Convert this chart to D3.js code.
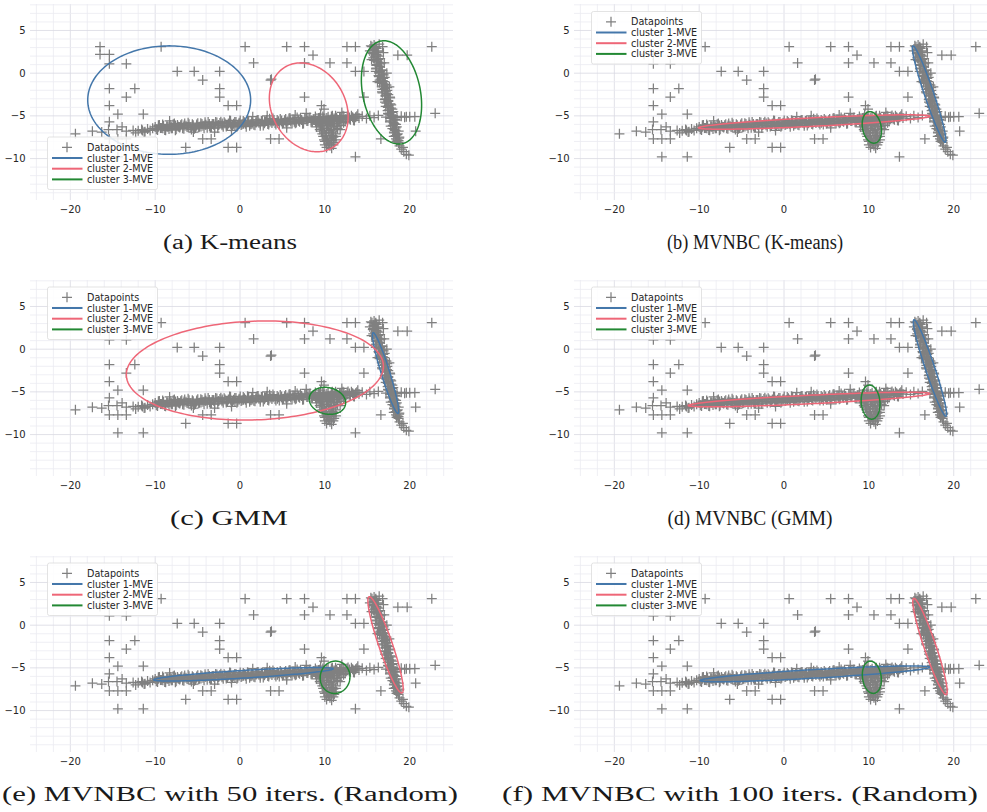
<!DOCTYPE html>
<html><head><meta charset="utf-8">
<script src="https://cdn.jsdelivr.net/npm/d3@7"></script>
<style>body{margin:0;background:#fff;}svg{display:block;}</style>
</head><body>
<svg id="chart" width="987" height="812"></svg>
<script>
// ---------------- data ----------------
const xTicks = [-20, -10, 0, 10, 20];
const yTicks = [5, 0, -5, -10];
const legendLabels = ["Datapoints", "cluster 1-MVE", "cluster 2-MVE", "cluster 3-MVE"];
const clusterColors = ["#4477AA", "#EE6677", "#228833"];
const captions = ["(a) K-means", "(b) MVNBC (K-means)", "(c) GMM", "(d) MVNBC (GMM)",
  "(e) MVNBC with 50 iters. (Random)", "(f) MVNBC with 100 iters. (Random)"];

// isolated datapoints
const outlierPoints = [
  [-16.5,3.1],[-9.3,3.1],[0.6,3.1],[5.5,3.1],[7.6,3.1],[12.6,3.1],[13.6,3.1],[22.6,3.1],
  [-16.5,2.2],[-15.4,2.2],[8.6,2.1],[18.6,2.1],[19.7,2.1],
  [-15.4,1.1],[-13.4,1.1],[1.6,1.2],[7.6,1.2],[10.6,1.2],[12.6,1.2],
  [-7.4,0.2],[-5.4,0.2],[-2.4,0.2],[13.6,0.2],[14.6,0.2],
  [-4.4,-0.8],[3.6,-0.8],[3.7,-0.7],
  [-15.4,-1.8],[-12.4,-1.8],[-2.4,-1.8],
  [-13.4,-2.8],[-2.4,-2.8],[7.6,-2.8],[14.6,-2.8],
  [-15.4,-3.8],[-1.4,-3.8],[-0.4,-3.8],[9.6,-3.8],[9.9,-4.2],
  [-14.4,-4.8],[-11.4,-4.8],[23.0,-4.7],
  [-15.4,-5.7],
  [-19.4,-7.1],[-17.4,-6.8],[-16.3,-6.9],[-15.5,-6.6],[-14.5,-6.6],[-13.9,-6.3],[-13.4,-6.8],
  [-12.6,-6.7],[-12.3,-7.0],[-11.5,-6.7],[-11.3,-6.9],
  [-15.4,-7.7],[-14.4,-7.7],[-13.4,-7.7],[-4.4,-7.7],[-3.4,-7.7],[3.6,-7.7],[4.6,-7.7],[16.6,-7.7],
  [-6.4,-8.7],[-1.4,-8.7],[-0.4,-8.7],
  [-14.4,-9.8],[-11.4,-9.8],[13.6,-9.8],
  [19.6,-5.1],[20.6,-5.1],[20.7,-6.8],
  [-8.3,-5.6],[-5.5,-6.9],[-3.0,-6.9],[-1.0,-6.7],[1.5,-5.1],[3.2,-5.0],[5.5,-6.4],
  [6.5,-4.9],[7.8,-4.7],[9.5,-4.8],[12.0,-4.6]
];

// dense horizontal band (first sweep)
const bandPoints = [
  [-12.0,-6.75],[-11.6,-6.6],[-11.2,-6.85],[-10.9,-6.55],[-10.6,-6.7],[-10.3,-6.45],
  [-10.0,-6.30],[-9.72,-6.64],[-9.51,-6.08],[-9.23,-6.41],[-9.02,-6.15],[-8.77,-6.69],[-8.48,-6.28],
  [-8.26,-6.06],[-7.98,-6.45],[-7.74,-5.89],[-7.53,-6.58],[-7.27,-6.26],[-6.99,-6.10],[-6.76,-6.44],
  [-6.52,-5.88],[-6.24,-6.31],[-6.01,-5.98],[-5.73,-6.59],[-5.52,-6.10],[-5.26,-6.43],[-4.98,-5.85],
  [-4.77,-6.26],[-4.49,-5.95],[-4.24,-6.44],[-4.02,-6.05],[-3.76,-5.71],[-3.48,-6.30],[-3.27,-5.94],
  [-2.99,-6.43],[-2.73,-5.79],[-2.51,-6.08],[-2.26,-5.69],[-1.98,-6.28],[-1.77,-5.89],[-1.49,-6.16],
  [-1.23,-5.54],[-1.02,-6.30],[-0.76,-5.92],[-0.48,-5.73],[-0.27,-6.15],[0.02,-5.54],[0.24,-5.97],
  [0.51,-5.74],[0.73,-6.26],[1.01,-5.58],[1.27,-5.99],[1.48,-5.77],[1.76,-6.11],[2.02,-5.47],
  [2.23,-5.81],[2.52,-5.60],[2.74,-6.12],[2.99,-5.66],[3.27,-5.94],[3.49,-5.33],[3.76,-5.83],
  [4.01,-5.48],[4.23,-6.02],[4.52,-5.64],[4.74,-5.38],[5.02,-5.90],[5.26,-5.52],[5.49,-6.01],
  [5.77,-5.31],[5.98,-5.66],[6.24,-5.43],[6.51,-5.86],[6.73,-5.18],[7.02,-5.70],[7.26,-5.49],
  [7.48,-5.88],[7.77,-5.27],[7.99,-5.60],[8.24,-5.18],[8.52,-5.70],[8.73,-5.36],[9.01,-5.85],
  [9.27,-5.24],[9.48,-5.48],[9.76,-5.06],[10.02,-5.70],[10.23,-5.24],[10.51,-5.56],[10.77,-5.08],
  [10.98,-5.43],[11.26,-4.98],[11.49,-5.59],[11.74,-5.25],[12.02,-5.64],[12.24,-5.07],[12.51,-5.40],
  [12.73,-4.96],[13.01,-5.45],[13.27,-5.16],[13.48,-5.53],[13.76,-5.03],[14.02,-5.26],
  [14.4,-5.05],[14.9,-5.3],[15.3,-5.0],[15.8,-5.2],[16.3,-4.95],[17.2,-5.15],[18.0,-5.0],
  [18.5,-5.2],[19.0,-5.05],[19.4,-5.15],[20.0,-5.1]
];

// dense horizontal band (second sweep)
const bandPoints2 = [
  [-9.87,-6.57],[-9.62,-6.11],[-9.37,-6.42],[-9.12,-6.00],[-8.87,-6.65],[-8.62,-6.21],[-8.37,-6.54],
  [-8.12,-6.28],[-7.87,-5.98],[-7.62,-6.67],[-7.37,-6.08],[-7.12,-6.35],[-6.87,-5.99],[-6.62,-6.50],
  [-6.37,-6.15],[-6.12,-5.82],[-5.87,-6.33],[-5.62,-5.97],[-5.37,-6.51],[-5.12,-6.16],[-4.87,-6.32],
  [-4.62,-5.86],[-4.37,-6.17],[-4.12,-5.75],[-3.87,-6.40],[-3.62,-5.96],[-3.37,-6.29],[-3.12,-6.03],
  [-2.87,-5.73],[-2.62,-6.42],[-2.37,-5.83],[-2.12,-6.10],[-1.87,-5.74],[-1.62,-6.25],[-1.37,-5.90],
  [-1.12,-5.57],[-0.87,-6.08],[-0.62,-5.72],[-0.37,-6.26],[-0.12,-5.91],[0.13,-6.07],[0.38,-5.61],
  [0.63,-5.92],[0.88,-5.50],[1.13,-6.15],[1.38,-5.71],[1.63,-6.04],[1.88,-5.78],[2.13,-5.48],
  [2.38,-6.17],[2.63,-5.58],[2.88,-5.85],[3.13,-5.49],[3.38,-6.00],[3.63,-5.65],[3.88,-5.32],
  [4.13,-5.83],[4.38,-5.47],[4.63,-6.01],[4.88,-5.66],[5.13,-5.82],[5.38,-5.36],[5.63,-5.67],
  [5.88,-5.25],[6.13,-5.90],[6.38,-5.46],[6.63,-5.79],[6.88,-5.53],[7.13,-5.23],[7.38,-5.92],
  [7.63,-5.33],[7.88,-5.60],[8.13,-5.24],[8.38,-5.75],[8.63,-5.40],[8.88,-5.07],[9.13,-5.58],
  [9.38,-5.22],[9.63,-5.76],[9.88,-5.41],[10.13,-5.57],[10.38,-5.11],[10.63,-5.42],[10.88,-5.00],
  [11.13,-5.65],[11.38,-5.21],[11.63,-5.54],[11.88,-5.28],[12.13,-4.98],[12.38,-5.67],[12.63,-5.08],
  [12.88,-5.35],[13.13,-4.99],[13.38,-5.50],[13.63,-5.15],[13.88,-4.82]
];

// dense horizontal band (core points near the centre line)
const bandPoints3 = [
  [-9.6,-6.26],[-9.1,-6.46],[-8.6,-6.28],[-8.1,-6.46],[-7.6,-6.14],[-7.1,-6.30],[-6.6,-6.14],[-6.1,-6.34],
  [-5.6,-6.16],[-5.1,-6.01],[-4.6,-6.24],[-4.1,-6.04],[-3.6,-6.22],[-3.1,-5.95],[-2.6,-6.09],[-2.1,-5.88],
  [-1.6,-6.10],[-1.1,-5.92],[-0.6,-6.08],[-0.1,-5.81],[0.4,-5.91],[0.9,-5.72],[1.4,-5.92],[1.9,-5.75],
  [2.4,-5.91],[2.9,-5.64],[3.4,-5.78],[3.9,-5.63],[4.4,-5.82],[4.9,-5.55],[5.4,-5.70],[5.9,-5.46],
  [6.4,-5.68],[6.9,-5.53],[7.4,-5.65],[7.9,-5.38],[8.4,-5.54],[8.9,-5.37],[9.4,-5.58],[9.9,-5.36],
  [10.4,-5.49],[10.9,-5.24],[11.4,-5.37],[11.9,-5.21],[12.4,-5.41],[12.9,-5.19],[13.4,-5.32]
];

// blob below the band near x = 10
const blobPoints = [
  [8.9,-5.7],[9.3,-5.6],[9.7,-5.9],[10.1,-5.5],[10.5,-5.8],[10.9,-5.6],[11.3,-5.9],[11.7,-5.7],[12.2,-5.8],
  [9.2,-6.0],[9.5,-6.2],[9.9,-6.4],[10.3,-6.1],[10.7,-6.3],[11.1,-6.2],[11.5,-6.5],[11.9,-6.1],
  [9.6,-6.8],[10.0,-7.0],[10.4,-6.7],[10.8,-6.9],[11.2,-7.1],
  [9.8,-7.4],[10.2,-7.6],[10.6,-7.3],[11.0,-7.5],[11.3,-7.8],
  [10.0,-8.0],[10.4,-8.2],[10.8,-7.9],[10.6,-8.5],[10.2,-8.7],[11.0,-8.4],
  [9.4,-5.4],[9.8,-5.3],[10.3,-5.7],[10.7,-5.5],[11.1,-5.3],[11.5,-5.5],[9.0,-6.3],[9.4,-6.6],
  [9.8,-6.1],[10.2,-6.5],[10.6,-6.0],[11.0,-6.6],[11.4,-6.3],[11.8,-6.6],[9.7,-7.1],[10.1,-7.3],
  [10.5,-7.0],[10.9,-7.3],[11.3,-7.4],[9.9,-7.8],[10.3,-7.9],[10.7,-7.7],[11.1,-8.1],[10.5,-8.3],
  [10.8,-8.8],[10.0,-8.4]
];

// diagonal cluster near x = 16..19 (two sweeps + edges + tail)
const diagPoints = [
  [15.80,3.3],[15.55,3.1],[16.10,2.9],[15.80,2.7],[16.25,2.5],[15.65,2.3],[16.16,2.1],[15.91,1.9],
  [16.51,1.7],[15.81,1.5],[16.26,1.3],[16.51,1.1],[16.06,0.9],[16.47,0.7],[16.02,0.5],[16.77,0.3],
  [16.42,0.1],[16.77,-0.1],[16.32,-0.3],[17.05,-0.5],[16.58,-0.7],[16.83,-0.9],[16.45,-1.1],[17.13,-1.3],
  [16.88,-1.5],[17.33,-1.7],[16.78,-1.9],[17.21,-2.1],[16.79,-2.3],[17.47,-2.5],[17.14,-2.7],[17.69,-2.9],
  [17.06,-3.1],[17.47,-3.3],[17.25,-3.5],[17.82,-3.7],[17.17,-3.9],[17.78,-4.1],[17.53,-4.3],[18.06,-4.5],
  [17.45,-4.7],[17.83,-4.9],[18.12,-5.1],[17.69,-5.3],[18.36,-5.5],[17.67,-5.7],[18.20,-5.9],[18.01,-6.1],
  [18.47,-6.3],[17.96,-6.5],[18.33,-6.7],[18.14,-6.9],[18.59,-7.1],[18.34,-7.3],[18.77,-7.5],[18.38,-7.7],
  [18.68,-7.9],[18.68,-8.1],
  [15.42,3.2],[15.97,3.0],[15.73,2.8],[16.23,2.6],[15.68,2.4],[16.03,2.2],[16.33,2.0],[15.70,1.8],
  [16.28,1.6],[16.14,1.4],[16.64,1.2],[16.09,1.0],[16.44,0.8],[16.06,0.6],[16.69,0.4],[16.49,0.2],
  [16.40,0.0],[16.92,-0.2],[16.37,-0.4],[16.88,-0.6],[16.45,-0.8],[17.00,-1.0],[16.75,-1.2],[17.26,-1.4],
  [16.71,-1.6],[17.06,-1.8],[17.36,-2.0],[16.73,-2.2],[17.31,-2.4],[17.16,-2.6],[17.67,-2.8],[17.12,-3.0],
  [17.47,-3.2],[17.09,-3.4],[17.72,-3.6],[17.52,-3.8],[17.42,-4.0],[17.95,-4.2],[17.40,-4.4],[17.91,-4.6],
  [17.48,-4.8],[18.03,-5.0],[17.78,-5.2],[18.28,-5.4],[17.74,-5.6],[18.09,-5.8],[18.39,-6.0],[17.76,-6.2],
  [18.34,-6.4],[18.19,-6.6],[18.70,-6.8],[18.15,-7.0],[18.50,-7.2],[18.12,-7.4],[18.75,-7.6],[18.55,-7.8],
  [18.45,-8.0],
  [15.3,2.6],[16.9,2.4],[15.5,1.6],[17.0,1.2],[16.0,0.2],[17.3,0.0],[16.2,-1.0],[17.6,-1.6],
  [16.4,3.4],[16.0,3.1],[16.8,3.1],
  [18.8,-8.5],[19.0,-8.9],[19.3,-9.2],[19.6,-9.5],[19.9,-9.6],[19.2,-8.7]
];

// minimum volume ellipses per panel: [cx, cy, semi-axis a, semi-axis b, angle (deg)], clusters 1..3
const mveA = [[-8.35,-3.15,9.6,6.35,0],[8.1,-4.0,5.48,4.31,120.8],[17.85,-2.25,6.14,3.39,101.9]];
const mveB = [[17.1,-2.45,5.95,0.55,108.7],[3.55,-5.72,13.65,0.5,2.86],[10.35,-6.35,1.87,1.10,101.3]];
const mveC = [[17.15,-2.8,4.95,0.5,107.3],[1.75,-2.5,15.16,5.78,2.15],[10.3,-6.05,2.17,1.55,-12.1]];
const mveD = [[17.2,-2.2,5.95,0.55,108.5],[2.95,-5.9,14.25,0.5,2.8],[10.2,-6.2,2.0,1.1,95]];
const mveE = [[0.4,-5.75,10.6,0.45,3.5],[17.15,-2.3,5.95,0.8,109],[11.2,-6.1,1.9,1.75,80]];
const mveF = [[3.65,-5.7,13.55,0.5,3.3],[17.2,-2.5,5.95,0.7,108.8],[10.35,-6.1,1.9,1.1,98]];

// ---------------- layout ----------------
const panels = [
  {ox: 0,   oy: 0,   mve: mveA, legendY: 137,  capX: 230, capW: 134},
  {ox: 544, oy: 0,   mve: mveB, legendY: 11.5, capX: 755, capW: 176},
  {ox: 0,   oy: 276, mve: mveC, legendY: 11,   capX: 229, capW: 118},
  {ox: 544, oy: 276, mve: mveD, legendY: 11,   capX: 750, capW: 165},
  {ox: 0,   oy: 552, mve: mveE, legendY: 11,   capX: 230, capW: 456},
  {ox: 544, oy: 552, mve: mveF, legendY: 11,   capX: 740, capW: 476}
];
const allPoints = outlierPoints.concat(bandPoints, bandPoints2, bandPoints3, blobPoints, diagPoints);

const svg = d3.select("#chart");
const x = d3.scaleLinear().domain([-24.4, 25.1]).range([33, 453]);
const y = d3.scaleLinear().domain([-14.5, 8.1]).range([197, 4]);
const minorX = d3.range(-24, 25, 2);
const minorY = d3.range(-14, 9, 1);
const markerPath = "M-5,0H5M0,-5V5";

panels.forEach((p, i) => {
  const g = svg.append("g").attr("transform", `translate(${p.ox},${p.oy})`);
  // grid
  const grid = g.append("g");
  grid.selectAll("line.v").data(minorX).join("line")
    .attr("x1", d => x(d)).attr("x2", d => x(d)).attr("y1", 4).attr("y2", 200)
    .attr("stroke", d => d % 10 === 0 ? "#d9d9e2" : "#ebebf1").attr("stroke-width", 0.8);
  grid.selectAll("line.h").data(minorY).join("line")
    .attr("x1", 30).attr("x2", 453).attr("y1", d => y(d)).attr("y2", d => y(d))
    .attr("stroke", d => d % 5 === 0 ? "#d9d9e2" : "#ebebf1").attr("stroke-width", 0.8);
  // tick labels
  g.selectAll("text.xt").data(xTicks).join("text")
    .attr("x", d => x(d)).attr("y", 212.5).attr("text-anchor", "middle")
    .attr("font-family", "DejaVu Sans").attr("font-size", 10).attr("fill", "#262626")
    .text(d => d < 0 ? "\u2212" + Math.abs(d) : d);
  g.selectAll("text.yt").data(yTicks).join("text")
    .attr("x", 25.5).attr("y", d => y(d) + 3.6).attr("text-anchor", "end")
    .attr("font-family", "DejaVu Sans").attr("font-size", 10).attr("fill", "#262626")
    .text(d => d < 0 ? "\u2212" + Math.abs(d) : d);
  // points
  g.append("g").selectAll("path").data(allPoints).join("path")
    .attr("d", markerPath)
    .attr("transform", d => `translate(${x(d[0])},${y(d[1])})`)
    .attr("stroke", "#808080").attr("stroke-width", 1.25).attr("fill", "none");
  // ellipses
  const line = d3.line().x(d => x(d[0])).y(d => y(d[1])).curve(d3.curveLinearClosed);
  p.mve.forEach((e, k) => {
    const [cx, cy, a, b, ang] = e;
    const th = ang * Math.PI / 180;
    const pts = d3.range(0, 2 * Math.PI, Math.PI / 90).map(t => [
      cx + a * Math.cos(t) * Math.cos(th) - b * Math.sin(t) * Math.sin(th),
      cy + a * Math.cos(t) * Math.sin(th) + b * Math.sin(t) * Math.cos(th)
    ]);
    g.append("path").attr("d", line(pts)).attr("fill", "none")
      .attr("stroke", clusterColors[k]).attr("stroke-width", 1.5);
  });
  // legend
  const lg = g.append("g").attr("transform", `translate(47.5,${p.legendY})`);
  lg.append("rect").attr("width", 110).attr("height", 52.5).attr("rx", 2)
    .attr("fill", "#fff").attr("fill-opacity", 0.85).attr("stroke", "#dcdcdc").attr("stroke-width", 0.8);
  legendLabels.forEach((lab, k) => {
    const ry = 10.3 + k * 10.7;
    if (k === 0) {
      lg.append("path").attr("d", markerPath).attr("transform", `translate(19.5,${ry})`)
        .attr("stroke", "#808080").attr("stroke-width", 1.25);
    } else {
      lg.append("line").attr("x1", 4.5).attr("x2", 35).attr("y1", ry).attr("y2", ry)
        .attr("stroke", clusterColors[k - 1]).attr("stroke-width", 2);
    }
    lg.append("text").attr("x", 39.5).attr("y", ry + 3.5)
      .attr("font-family", "DejaVu Sans").attr("font-size", 9.6).attr("fill", "#262626").text(lab);
  });
  // caption
  svg.append("text").attr("x", p.capX).attr("y", p.oy + 249).attr("text-anchor", "middle")
    .attr("font-family", "Liberation Serif").attr("font-size", 20)
    .attr("textLength", p.capW).attr("lengthAdjust", "spacingAndGlyphs")
    .attr("fill", "#1a1a1a").text(captions[i]);
});
</script>
</body></html>
